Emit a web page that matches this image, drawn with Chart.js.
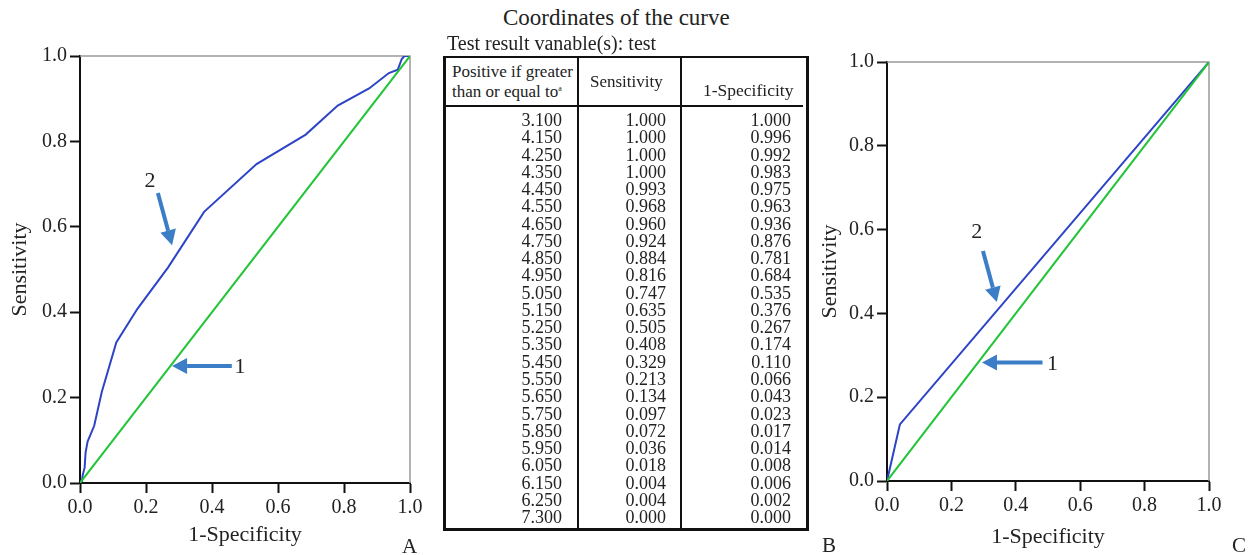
<!DOCTYPE html>
<html>
<head>
<meta charset="utf-8">
<script src="https://cdn.jsdelivr.net/npm/chart.js@4/dist/chart.umd.min.js"></script>
<style>
body{margin:0;width:1250px;height:555px;position:relative;background:#fff;font-family:"Liberation Serif",serif;color:#222;overflow:hidden}
#wrapA{position:absolute;left:0;top:0;width:440px;height:555px}
#wrapC{position:absolute;left:800px;top:0;width:450px;height:555px}
.t{position:absolute;white-space:nowrap}
.ln{position:absolute;background:#111}
.col{position:absolute;text-align:right;font-size:18px;line-height:17.26px}
sup{font-size:8px;line-height:0;vertical-align:6px}
</style>
</head>
<body>
<div id="wrapA"><canvas id="chartA" width="440" height="555"></canvas></div>
<div id="wrapC"><canvas id="chartC" width="450" height="555"></canvas></div>

<div class="t" style="left:503px;top:5px;font-size:23px">Coordinates of the curve</div>
<div class="t" style="left:447px;top:32px;font-size:20px">Test result vanable(s): test</div>

<div class="ln" style="left:443px;top:56px;width:366px;height:2px"></div>
<div class="ln" style="left:443px;top:56px;width:3px;height:475px"></div>
<div class="ln" style="left:806px;top:56px;width:3px;height:475px"></div>
<div class="ln" style="left:443px;top:528px;width:366px;height:3px"></div>
<div class="ln" style="left:577px;top:56px;width:2px;height:474px"></div>
<div class="ln" style="left:680px;top:56px;width:2px;height:474px"></div>
<div class="ln" style="left:443px;top:105px;width:360px;height:2px"></div>

<div class="t" style="left:452px;top:62px;font-size:17px;line-height:20px">Positive if greater<br>than or equal to<sup>a</sup></div>
<div class="t" style="left:590px;top:72px;font-size:17px">Sensitivity</div>
<div class="t" style="left:703px;top:80px;font-size:17.5px">1-Specificity</div>

<div class="col" id="c1" style="right:688px;top:112px"></div>
<div class="col" id="c2" style="right:584px;top:112px"></div>
<div class="col" id="c3" style="right:459px;top:112px"></div>

<div class="t" style="left:402px;top:534px;font-size:21px">A</div>
<div class="t" style="left:822px;top:533px;font-size:21px">B</div>
<div class="t" style="left:1232px;top:533px;font-size:21px">C</div>

<script>
// coordinates table (panel B), also curve 2 of panel A
var thresholds = ['3.100','4.150','4.250','4.350','4.450','4.550','4.650','4.750','4.850','4.950','5.050','5.150',
                  '5.250','5.350','5.450','5.550','5.650','5.750','5.850','5.950','6.050','6.150','6.250','7.300'];
var sensitivity = [1.000,1.000,1.000,1.000,0.993,0.968,0.960,0.924,0.884,0.816,0.747,0.635,
                   0.505,0.408,0.329,0.213,0.134,0.097,0.072,0.036,0.018,0.004,0.004,0.000];
var oneMinusSpec = [1.000,0.996,0.992,0.983,0.975,0.963,0.936,0.876,0.781,0.684,0.535,0.376,
                    0.267,0.174,0.110,0.066,0.043,0.023,0.017,0.014,0.008,0.006,0.002,0.000];

// panel C curve 2
var cX = [0, 0.04, 1];
var cY = [0, 0.135, 1];

// reference diagonal (curve 1)
var diagX = [0, 1];
var diagY = [0, 1];

var axisTicks = [0, 0.2, 0.4, 0.6, 0.8, 1.0];

document.getElementById('c1').innerHTML = thresholds.join('<br>');
document.getElementById('c2').innerHTML = sensitivity.map(function(v){ return v.toFixed(3); }).join('<br>');
document.getElementById('c3').innerHTML = oneMinusSpec.map(function(v){ return v.toFixed(3); }).join('<br>');

function pts(xs, ys){
    var out = [];
    for (var i = 0; i < xs.length; i++) out.push({x: xs[i], y: ys[i]});
    return out;
}

var arrowPlugin = {
    id: 'arrows',
    beforeDatasetsDraw: function(chart){
        var a = chart.chartArea, ctx = chart.ctx;
        ctx.save();
        ctx.strokeStyle = '#9a9a9a';
        ctx.lineWidth = 1.5;
        ctx.beginPath();
        ctx.moveTo(a.left, a.top);
        ctx.lineTo(a.right, a.top);
        ctx.lineTo(a.right, a.bottom);
        ctx.stroke();
        ctx.restore();
    },
    afterDatasetsDraw: function(chart, args, opts){
        var sx = chart.scales.x, sy = chart.scales.y, ctx = chart.ctx;
        (opts.items || []).forEach(function(it){
            var x1 = sx.getPixelForValue(it.from[0]), y1 = sy.getPixelForValue(it.from[1]);
            var x2 = sx.getPixelForValue(it.to[0]), y2 = sy.getPixelForValue(it.to[1]);
            var ang = Math.atan2(y2 - y1, x2 - x1);
            var hl = 15, hw = 8;
            var bx = x2 - hl * Math.cos(ang), by = y2 - hl * Math.sin(ang);
            ctx.save();
            ctx.strokeStyle = '#3b7dc6';
            ctx.fillStyle = '#3b7dc6';
            ctx.lineWidth = 4;
            ctx.beginPath();
            ctx.moveTo(x1, y1);
            ctx.lineTo(bx, by);
            ctx.stroke();
            ctx.beginPath();
            ctx.moveTo(x2, y2);
            ctx.lineTo(bx + hw * Math.sin(ang), by - hw * Math.cos(ang));
            ctx.lineTo(bx - hw * Math.sin(ang), by + hw * Math.cos(ang));
            ctx.closePath();
            ctx.fill();
            ctx.fillStyle = '#222';
            ctx.font = '22px "Liberation Serif", serif';
            ctx.textAlign = 'center';
            ctx.textBaseline = 'middle';
            ctx.fillText(it.text, sx.getPixelForValue(it.label[0]), sy.getPixelForValue(it.label[1]));
            ctx.restore();
        });
    }
};

function makeChart(id, curveX, curveY, lay, items){
    return new Chart(document.getElementById(id), {
        type: 'scatter',
        data: {
            datasets: [
                {data: pts(diagX, diagY), showLine: true, borderColor: '#24c43a', borderWidth: 2, pointRadius: 0},
                {data: pts(curveX, curveY), showLine: true, borderColor: '#2d44c6', borderWidth: 2, pointRadius: 0}
            ]
        },
        options: {
            responsive: false,
            animation: false,
            layout: {padding: {left: 0, right: lay.right, top: lay.top, bottom: 0}},
            plugins: {legend: {display: false}, tooltip: {enabled: false}, arrows: {items: items}},
            scales: {
                x: {
                    min: 0, max: 1,
                    afterBuildTicks: function(s){ s.ticks = axisTicks.map(function(v){ return {value: v}; }); },
                    afterFit: function(s){ s.height = lay.xh; },
                    grid: {drawOnChartArea: false, tickLength: 10, tickWidth: 2, tickColor: '#111'},
                    border: {color: '#111', width: 2},
                    ticks: {padding: 3, color: '#222', font: {family: 'Liberation Serif', size: 20},
                            callback: function(v){ return v.toFixed(1); }},
                    title: {display: true, text: '1-Specificity', color: '#222',
                            font: {family: 'Liberation Serif', size: 22}, padding: {bottom: lay.xt}}
                },
                y: {
                    min: 0, max: 1,
                    afterBuildTicks: function(s){ s.ticks = axisTicks.map(function(v){ return {value: v}; }); },
                    afterFit: function(s){ s.width = lay.yw; },
                    grid: {drawOnChartArea: false, tickLength: 10, tickWidth: 2, tickColor: '#111'},
                    border: {color: '#111', width: 2},
                    ticks: {padding: 3, color: '#222', font: {family: 'Liberation Serif', size: 20},
                            callback: function(v){ return v.toFixed(1); }},
                    title: {display: true, text: 'Sensitivity', color: '#222',
                            font: {family: 'Liberation Serif', size: 22}, padding: {top: lay.yt}}
                }
            }
        },
        plugins: [arrowPlugin]
    });
}

makeChart('chartA', oneMinusSpec, sensitivity, {right: 30, top: 56, xh: 72, yw: 80, xt: 7, yt: 7}, [
    {from: [0.236, 0.679], to: [0.279, 0.557], label: [0.212, 0.706], text: '2'},
    {from: [0.46, 0.274], to: [0.279, 0.274], label: [0.485, 0.271], text: '1'}
]);

makeChart('chartC', cX, cY, {right: 41, top: 62, xh: 74, yw: 87, xt: 5, yt: 17}, [
    {from: [0.298, 0.549], to: [0.341, 0.427], label: [0.279, 0.594], text: '2'},
    {from: [0.483, 0.283], to: [0.295, 0.283], label: [0.514, 0.278], text: '1'}
]);
</script>
</body>
</html>
